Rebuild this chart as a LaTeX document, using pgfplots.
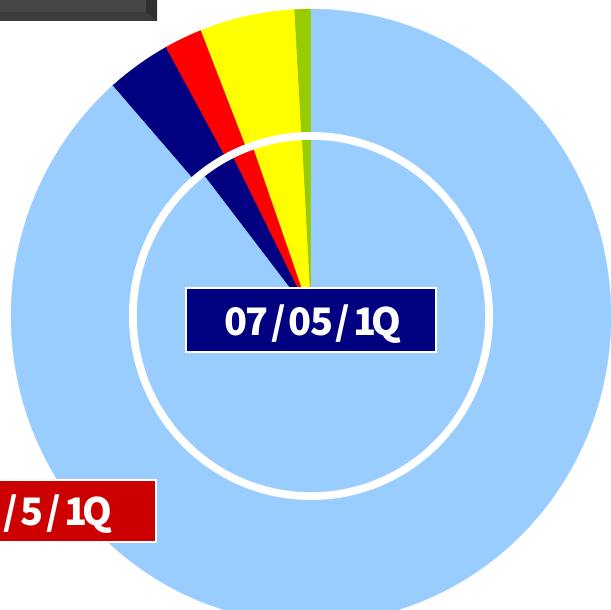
\documentclass[border=0pt]{standalone}
\usepackage{pgfplots}
\pgfplotsset{compat=1.18}
\usepackage{pgfplotstable}
\usepackage{fontspec}
\newfontfamily\jpfont{Noto Sans CJK JP}
\definecolor{cblue}{HTML}{99CCFF}
\definecolor{cnavy}{HTML}{000080}
\definecolor{cred}{HTML}{FF0000}
\definecolor{cyellow}{HTML}{FFFF00}
\definecolor{cgreen}{HTML}{99CC00}
\definecolor{labred}{HTML}{CC0000}
\definecolor{gface}{HTML}{474747}
\definecolor{gbot}{HTML}{3C3C3C}
\definecolor{gright}{HTML}{303030}
\newcommand\m[1]{\makebox[21.5bp][c]{#1}}

% shares in percent, counter-clockwise from 12 o'clock
\pgfplotstableread{
name pct
green 0.90
yellow 5.10
red 2.05
navy 3.45
blue 88.50
}\outertab
\pgfplotstableread{
name pct
green 0.85
yellow 4.50
red 2.00
navy 3.10
blue 89.55
}\innertab

\newcommand\cumangles[2]{% table, prefix
  \expandafter\xdef\csname #2A\endcsname{90}%
  \foreach \i/\P/\L in {0/A/B,1/B/C,2/C/D,3/D/E,4/E/F}{%
    \pgfplotstablegetelem{\i}{pct}\of#1%
    \pgfmathsetmacro\acc{\csname #2\P\endcsname+3.6*\pgfplotsretval}%
    \expandafter\xdef\csname #2\L\endcsname{\acc}%
  }%
}

\begin{document}
\cumangles{\outertab}{o}%
\cumangles{\innertab}{n}%
\begin{tikzpicture}
\useasboundingbox (0,0) rectangle (611bp,610bp);
\begin{scope}
\clip (0,0) rectangle (611bp,610bp);
\begin{axis}[at={(0,0)}, anchor=south west, width=611bp, height=610bp, scale only axis,
  xmin=0, xmax=611, ymin=0, ymax=610, hide axis, clip=false]
% outer ring
\addplot[fill=cgreen, draw=cgreen, line width=0.3pt, domain=\oA:\oB, samples=20, variable=\t]
  ({311+300*cos(\t)},{294+307*sin(\t)}) -- (axis cs:311,294) -- cycle;
\addplot[fill=cyellow, draw=cyellow, line width=0.3pt, domain=\oB:\oC, samples=40, variable=\t]
  ({311+300*cos(\t)},{294+307*sin(\t)}) -- (axis cs:311,294) -- cycle;
\addplot[fill=cred, draw=cred, line width=0.3pt, domain=\oC:\oD, samples=30, variable=\t]
  ({311+300*cos(\t)},{294+307*sin(\t)}) -- (axis cs:311,294) -- cycle;
\addplot[fill=cnavy, draw=cnavy, line width=0.3pt, domain=\oD:\oE, samples=30, variable=\t]
  ({311+300*cos(\t)},{294+307*sin(\t)}) -- (axis cs:311,294) -- cycle;
\addplot[fill=cblue, draw=cblue, line width=0.3pt, domain=\oE:\oF, samples=200, variable=\t]
  ({311+300*cos(\t)},{294+307*sin(\t)}) -- (axis cs:311,294) -- cycle;
% white separating ring
\fill[white] (axis cs:311,294) ellipse [x radius=182bp, y radius=184bp];
% inner pie
\addplot[fill=cgreen, draw=cgreen, line width=0.3pt, domain=\nA:\nB, samples=20, variable=\t]
  ({311+174*cos(\t)},{294+176*sin(\t)}) -- (axis cs:311,294) -- cycle;
\addplot[fill=cyellow, draw=cyellow, line width=0.3pt, domain=\nB:\nC, samples=30, variable=\t]
  ({311+174*cos(\t)},{294+176*sin(\t)}) -- (axis cs:311,294) -- cycle;
\addplot[fill=cred, draw=cred, line width=0.3pt, domain=\nC:\nD, samples=20, variable=\t]
  ({311+174*cos(\t)},{294+176*sin(\t)}) -- (axis cs:311,294) -- cycle;
\addplot[fill=cnavy, draw=cnavy, line width=0.3pt, domain=\nD:\nE, samples=20, variable=\t]
  ({311+174*cos(\t)},{294+176*sin(\t)}) -- (axis cs:311,294) -- cycle;
\addplot[fill=cblue, draw=cblue, line width=0.3pt, domain=\nE:\nF, samples=200, variable=\t]
  ({311+174*cos(\t)},{294+176*sin(\t)}) -- (axis cs:311,294) -- cycle;
\end{axis}
% top-left dark title box (cut off)
\fill[gbot] (-10bp,589bp) rectangle (157bp,620bp);
\fill[gright] (146bp,620bp) -- (157bp,620bp) -- (157bp,589bp) -- (146bp,598.3bp) -- cycle;
\fill[gface] (-10bp,598.3bp) rectangle (146bp,620bp);
% centre label
\draw[fill=cnavy, draw=white, line width=1.5bp] (186bp,258bp) rectangle (436bp,322bp);
\node[anchor=base, inner sep=0pt, text=white, font=\jpfont\bfseries\fontsize{38}{38}\selectfont]
  at (311bp,274bp) {\m0\m7\m/\m0\m5\m/\m1\m Q};
% lower-left label (cut off)
\draw[fill=labred, draw=white, line width=1.5bp] (-20bp,68bp) rectangle (156bp,130bp);
\node[anchor=base east, inner sep=0pt, text=white, font=\jpfont\bfseries\fontsize{38}{38}\selectfont]
  at (108bp,84bp) {\m0\m6\m/\m5\m/\m1\m Q};
\end{scope}
\end{tikzpicture}
\end{document}
